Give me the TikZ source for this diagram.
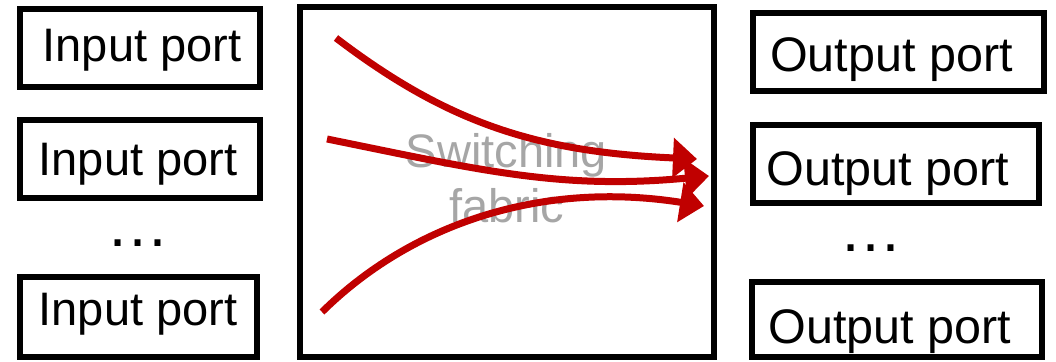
\documentclass[tikz,border=0pt]{standalone}
\usepackage{fontspec}
\setmainfont{Liberation Sans}
\usetikzlibrary{arrows.meta}
\definecolor{flowred}{HTML}{C00000}
\definecolor{labelgray}{HTML}{A6A6A6}
\begin{document}
\begin{tikzpicture}[x=1pt,y=-1pt,
  portbox/.style={draw=black, line width=6pt, rectangle, inner sep=0pt},
  porttext/.style={font=\fontsize{47}{55}\selectfont, inner sep=0pt, anchor=base},
  outtext/.style={font=\fontsize{48.5}{55}\selectfont, inner sep=0pt, anchor=base},
  moredots/.style={font=\fontsize{63}{63}\selectfont, inner sep=0pt, anchor=base},
  fabrictext/.style={font=\fontsize{47}{55}\selectfont, text=labelgray, align=center, inner sep=0pt},
  flow/.style={draw=flowred, line width=7pt, -{Triangle[length=24pt,width=39pt]}},
]
\useasboundingbox (0,0) rectangle (1056,361);

% input ports
\node[portbox, minimum width=239.5pt, minimum height=77.5pt] (in1) at (139.75,47.75) {};
\node[portbox, minimum width=239.5pt, minimum height=78pt]   (in2) at (139.75,159) {};
\node[portbox, minimum width=237pt,   minimum height=80pt]   (in3) at (138.5,317) {};
\node[porttext] (in1t) at (142,61.7) {Input port};
\node[porttext] (in2t) at (138,175) {Input port};
\node[porttext] (in3t) at (138,325) {Input port};
\node[moredots] (indots) at (138,246.5) {…};

% switching fabric
\node[portbox, minimum width=414pt, minimum height=349pt] (fabric) at (506.5,182) {};
\node[fabrictext] (fabrict) at (506.5,178.5) {Switching\\fabric};

% output ports
\node[portbox, minimum width=291pt, minimum height=78pt]   (out1) at (898.5,52) {};
\node[portbox, minimum width=286pt, minimum height=78pt]   (out2) at (896,164) {};
\node[portbox, minimum width=290pt, minimum height=75.5pt] (out3) at (897,319.25) {};
\node[outtext] (out1t) at (891.5,71.5) {Output port};
\node[outtext] (out2t) at (888,185) {Output port};
\node[outtext] (out3t) at (890,343) {Output port};
\node[moredots] (outdots) at (871,251) {…};

% flows through the fabric
\coordinate (a1s) at (336,38);
\coordinate (a1e) at (697,159);
\coordinate (a2s) at (327,139);
\coordinate (a2e) at (709,176);
\coordinate (a3s) at (322,312);
\coordinate (a3e) at (704,206);
\draw[flow] (a1s) .. controls (450,125) and (540,152) .. (a1e);
\draw[flow] (a2s) .. controls (480,170) and (560,190) .. (a2e);
\draw[flow] (a3s) .. controls (410,225) and (540,180) .. (a3e);
\end{tikzpicture}
\end{document}
